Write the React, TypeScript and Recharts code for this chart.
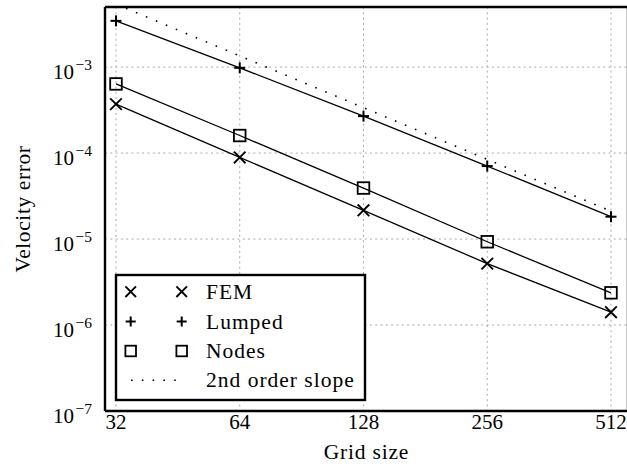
import React from 'react';
import { LineChart, Line, XAxis, YAxis, CartesianGrid, Legend } from 'recharts';

const gridSizes = [32, 64, 128, 256, 512];
const femError = [3.71e-4, 8.9e-5, 2.16e-5, 5.18e-6, 1.41e-6];
const lumpedError = [3.45e-3, 9.8e-4, 2.69e-4, 7.06e-5, 1.82e-5];
const nodesError = [6.37e-4, 1.6e-4, 3.92e-5, 9.3e-6, 2.37e-6];
const secondOrderSlope = [5.4e-3, 1.35e-3, 3.375e-4, 8.44e-5, 2.11e-5];

const seriesLabels = ['FEM', 'Lumped', 'Nodes', '2nd order slope'];
const xMajorTicks = [32, 64, 128, 256, 512];
const xMinorTicks = [40, 50, 60, 70, 80, 90, 200, 300, 400, 500];
const yMajorTicks = [1e-7, 1e-6, 1e-5, 1e-4, 1e-3];
const yMinorTicks: number[] = [];
[-7, -6, -5, -4, -3].forEach((e) => {
  for (let m = 2; m <= 9; m++) {
    const v = m * Math.pow(10, e);
    if (v < 5e-3) yMinorTicks.push(v);
  }
});

const X_DOMAIN: [number, number] = [30.09, 563.2];
const Y_DOMAIN: [number, number] = [1e-7, 5e-3];

const FONT = "'Liberation Serif', 'DejaVu Serif', serif";

const chartData = gridSizes.map((n, i) => ({
  n,
  fem: femError[i],
  lumped: lumpedError[i],
  nodes: nodesError[i],
  slope: secondOrderSlope[i],
}));

const crossShape = (cx: number, cy: number, s = 5.5, k?: any) => (
  <g key={k}>
    <line x1={cx - s} y1={cy - s} x2={cx + s} y2={cy + s} stroke="#000" strokeWidth={1.9} />
    <line x1={cx - s} y1={cy + s} x2={cx + s} y2={cy - s} stroke="#000" strokeWidth={1.9} />
  </g>
);
const plusShape = (cx: number, cy: number, s = 5.5, k?: any) => (
  <g key={k}>
    <line x1={cx - s} y1={cy} x2={cx + s} y2={cy} stroke="#000" strokeWidth={2} />
    <line x1={cx} y1={cy - s} x2={cx} y2={cy + s} stroke="#000" strokeWidth={2} />
  </g>
);
const squareShape = (cx: number, cy: number, s = 5.8, k?: any) => (
  <rect key={k} x={cx - s} y={cy - s} width={2 * s} height={2 * s} fill="none" stroke="#000" strokeWidth={1.8} />
);

const CrossDot = (p: any) => crossShape(p.cx, p.cy, 5.8, `c${p.index}`);
const PlusDot = (p: any) => plusShape(p.cx, p.cy, 5.5, `p${p.index}`);
const SquareDot = (p: any) => squareShape(p.cx, p.cy, 5.8, `s${p.index}`);

const XTick = (p: any) => (
  <text x={p.x} y={p.y + 17.5} textAnchor="middle" fontFamily={FONT} fontSize={21} fill="#000">
    {p.payload.value}
  </text>
);

const YTick = (p: any) => {
  const exp = Math.round(Math.log10(p.payload.value));
  return (
    <text x={p.x} y={p.y + 11.5} textAnchor="end" fontFamily={FONT} fontSize={21} fill="#000">
      10
      <tspan fontSize={15.5} dy={-9} dx={1.5}>
        {'\u2212' + Math.abs(exp)}
      </tspan>
    </text>
  );
};

const XTitle = (p: any) => {
  const vb = p.viewBox;
  return (
    <text x={vb.x + vb.width / 2} y={vb.y + 48} textAnchor="middle" fontFamily={FONT} fontSize={21.5} letterSpacing={0.8} fill="#000">
      Grid size
    </text>
  );
};

const YTitle = (p: any) => {
  const vb = p.viewBox;
  const cy = vb.y + vb.height / 2;
  return (
    <text transform={`translate(30, ${cy}) rotate(-90)`} textAnchor="middle" fontFamily={FONT} fontSize={21.5} letterSpacing={0.6} fill="#000">
      Velocity error
    </text>
  );
};

const LegendBox = () => {
  const rows = [19.7, 49.5, 79, 108.3];
  const m1 = 17.7;
  const m2 = 68.7;
  return (
    <svg width={256} height={131} style={{ display: 'block' }}>
      <rect x={3} y={3} width={249} height={125} fill="#fff" stroke="#000" strokeWidth={2.4} />
      {crossShape(m1, rows[0], 5.3)}
      {crossShape(m2, rows[0], 5.3)}
      {plusShape(m1, rows[1], 5)}
      {plusShape(m2, rows[1], 5)}
      {squareShape(m1, rows[2], 5.3)}
      {squareShape(m2, rows[2], 5.3)}
      <line x1={18} y1={rows[3]} x2={64} y2={rows[3]} stroke="#000" strokeWidth={1.6} strokeDasharray="1.6 9.2" />
      {seriesLabels.map((s, i) => (
        <text key={s} x={93} y={rows[i] + 7} fontFamily={FONT} fontSize={21.5} letterSpacing={1} fill="#000">
          {s}
        </text>
      ))}
    </svg>
  );
};

const tickLineStyle = { stroke: '#000', strokeWidth: 1.1 };
const frameStyle = { stroke: '#000', strokeWidth: 2.4 };

export default function App() {
  return (
    <div style={{ position: 'absolute', left: 0, top: 0, width: 627, height: 475, overflow: 'hidden', background: '#fff' }}>
      <LineChart width={629} height={475} data={chartData} margin={{ top: 7, right: 1, bottom: 0, left: 0 }}>
        <CartesianGrid xAxisId="x" yAxisId="y" stroke="#a8a8a8" strokeDasharray="2 3.3" strokeWidth={1} />
        <XAxis
          xAxisId="x"
          dataKey="n"
          type="number"
          scale="log"
          domain={X_DOMAIN}
          allowDataOverflow
          ticks={xMajorTicks}
          interval={0}
          height={64}
          tickSize={0}
          tickMargin={0}
          tickLine={false}
          axisLine={frameStyle}
          tick={<XTick />}
          label={{ content: <XTitle /> }}
        />
        <XAxis xAxisId="xbM" dataKey="n" type="number" scale="log" domain={X_DOMAIN} allowDataOverflow ticks={xMajorTicks} interval={0} mirror orientation="bottom" tickSize={7} axisLine={false} tickLine={tickLineStyle} tick={false} />
        <XAxis xAxisId="xbm" dataKey="n" type="number" scale="log" domain={X_DOMAIN} allowDataOverflow ticks={xMinorTicks} interval={0} mirror orientation="bottom" tickSize={4.5} axisLine={false} tickLine={tickLineStyle} tick={false} />
        <XAxis xAxisId="xtM" dataKey="n" type="number" scale="log" domain={X_DOMAIN} allowDataOverflow ticks={xMajorTicks} interval={0} mirror orientation="top" tickSize={7} axisLine={frameStyle} tickLine={tickLineStyle} tick={false} />
        <XAxis xAxisId="xtm" dataKey="n" type="number" scale="log" domain={X_DOMAIN} allowDataOverflow ticks={xMinorTicks} interval={0} mirror orientation="top" tickSize={4.5} axisLine={false} tickLine={tickLineStyle} tick={false} />
        <YAxis
          yAxisId="y"
          type="number"
          scale="log"
          domain={Y_DOMAIN}
          allowDataOverflow
          ticks={yMajorTicks}
          interval={0}
          width={105}
          tickSize={0}
          tickMargin={13}
          tickLine={false}
          axisLine={frameStyle}
          tick={<YTick />}
          label={{ content: <YTitle /> }}
        />
        <YAxis yAxisId="ylM" type="number" scale="log" domain={Y_DOMAIN} allowDataOverflow ticks={yMajorTicks} interval={0} mirror orientation="left" tickSize={7} axisLine={false} tickLine={tickLineStyle} tick={false} />
        <YAxis yAxisId="ylm" type="number" scale="log" domain={Y_DOMAIN} allowDataOverflow ticks={yMinorTicks} interval={0} mirror orientation="left" tickSize={4.5} axisLine={false} tickLine={tickLineStyle} tick={false} />
        <YAxis yAxisId="yrM" type="number" scale="log" domain={Y_DOMAIN} allowDataOverflow ticks={yMajorTicks} interval={0} mirror orientation="right" tickSize={7} axisLine={frameStyle} tickLine={tickLineStyle} tick={false} />
        <YAxis yAxisId="yrm" type="number" scale="log" domain={Y_DOMAIN} allowDataOverflow ticks={yMinorTicks} interval={0} mirror orientation="right" tickSize={4.5} axisLine={false} tickLine={tickLineStyle} tick={false} />
        <Line xAxisId="x" yAxisId="y" dataKey="slope" stroke="#000" strokeWidth={1.6} strokeDasharray="1.6 9.2" dot={false} isAnimationActive={false} />
        <Line xAxisId="x" yAxisId="y" dataKey="fem" stroke="#000" strokeWidth={1.3} dot={CrossDot} isAnimationActive={false} />
        <Line xAxisId="x" yAxisId="y" dataKey="lumped" stroke="#000" strokeWidth={1.3} dot={PlusDot} isAnimationActive={false} />
        <Line xAxisId="x" yAxisId="y" dataKey="nodes" stroke="#000" strokeWidth={1.3} dot={SquareDot} isAnimationActive={false} />
        <Legend
          layout="vertical"
          align="center"
          verticalAlign="middle"
          width={256}
          height={131}
          wrapperStyle={{ left: 113, top: 272, width: 256, height: 131 }}
          content={<LegendBox />}
        />
      </LineChart>
    </div>
  );
}
